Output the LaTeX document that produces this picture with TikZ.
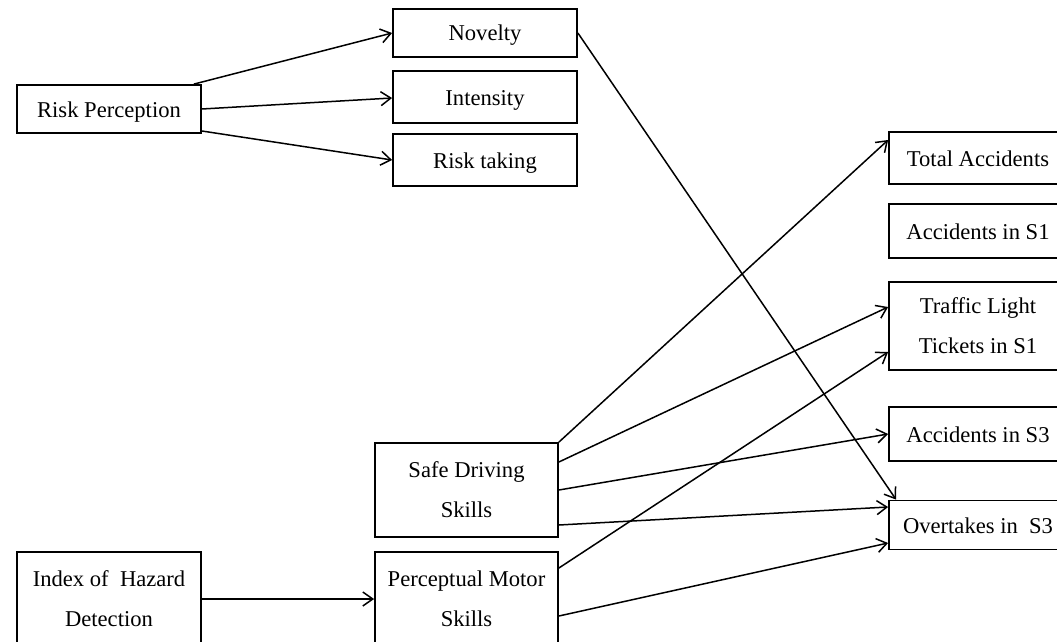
\documentclass[tikz,border=0pt]{standalone}
\usepackage{fontspec}
\setmainfont{Liberation Serif}
\usetikzlibrary{arrows.meta}

\tikzset{
  box/.style={draw=black, line width=1.8pt, fill=white, inner sep=0pt,
    align=center, font=\fontsize{22.6}{40}\selectfont,
    minimum width=184pt},
  rbox/.style={box, minimum width=178pt},
  oneline/.style={text height=20pt, text depth=4pt},
  link/.style={line width=1.5pt, -{Straight Barb[length=10pt,width=14pt]}}
}

\begin{document}
\begin{tikzpicture}[x=1pt, y=-1pt]
  \useasboundingbox (0,0) rectangle (1057,642);
  \clip (0,0) rectangle (1057,642);

  % left column
  \node[box, oneline, minimum height=48pt] (rp) at (109,109) {Risk Perception};
  \node[box, minimum height=94pt] (ih) at (109,599) {Index of\ \ Hazard\\Detection};

  % risk perception components
  \node[box, oneline, minimum height=48pt] (nov) at (485,33) {Novelty};
  \node[box, oneline, minimum height=52pt] (int) at (485,97) {Intensity};
  \node[box, oneline, minimum height=52pt] (rt)  at (485,160) {Risk taking};

  % skills
  \node[box, minimum width=183pt, minimum height=94pt] (sd) at (466.5,490) {Safe Driving\\Skills};
  \node[box, minimum width=183pt, minimum height=94pt] (pm) at (466.5,599) {Perceptual Motor\\Skills};

  % outcomes
  \node[rbox, oneline, minimum height=52pt] (ta)  at (978,158) {Total Accidents};
  \node[rbox, oneline, minimum height=54pt] (as1) at (978,231) {Accidents in S1};
  \node[rbox, minimum height=88pt] (tl)  at (978,326) {Traffic Light\\Tickets in S1};
  \node[rbox, oneline, minimum height=54pt] (as3) at (978,434) {Accidents in S3};
  \node[rbox, oneline, minimum height=49pt] (ov)  at (978,525) {Overtakes in\ \ S3};

  % risk perception links
  \draw[link] ([xshift=-8pt]rp.north east) -- (nov.west);
  \draw[link] (rp.east) -- ([yshift=-1pt]int.west);
  \draw[link] ([yshift=-22pt]rp.east) -- (rt.west);
  \draw[link] (nov.east) -- ([xshift=8pt]ov.north west);

  % hazard detection link
  \draw[link] (ih.east) -- (pm.west);

  % safe driving links
  \draw[link] (sd.north east) -- ([yshift=18pt]ta.west);
  \draw[link] ([yshift=28pt]sd.east) -- ([yshift=19pt]tl.west);
  \draw[link] (sd.east) -- (as3.west);
  \draw[link] ([yshift=-35pt]sd.east) -- ([yshift=18pt]ov.west);

  % perceptual motor links
  \draw[link] ([yshift=31pt]pm.east) -- ([yshift=-26pt]tl.west);
  \draw[link] ([yshift=-17pt]pm.east) -- ([yshift=-18pt]ov.west);
\end{tikzpicture}
\end{document}
